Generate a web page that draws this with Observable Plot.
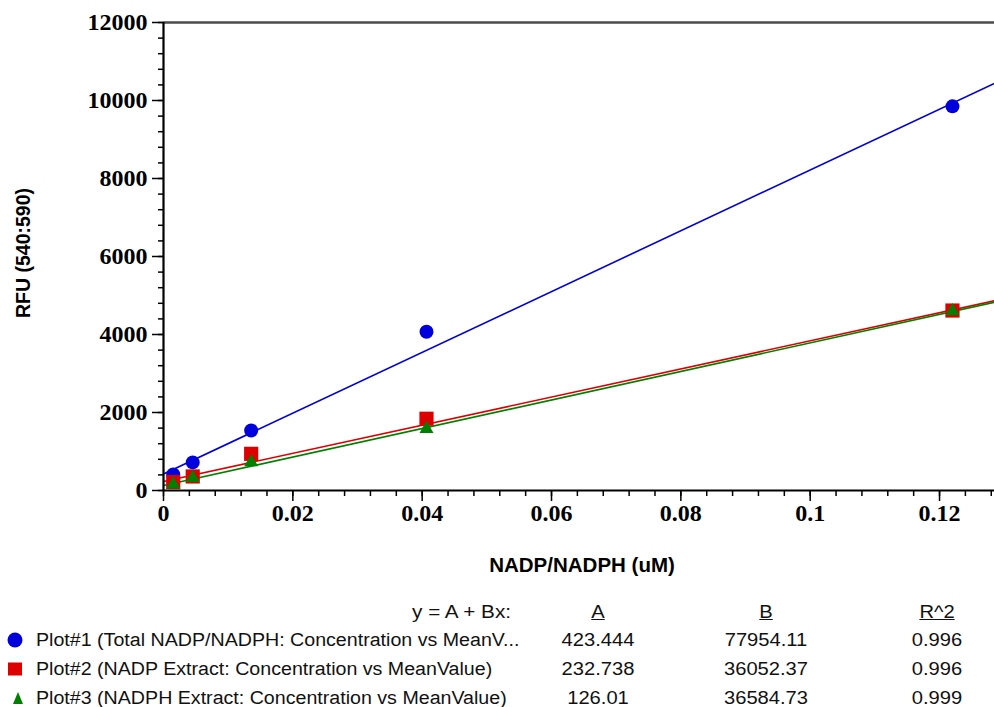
<!DOCTYPE html>
<html><head><meta charset="utf-8">
<script src="https://cdn.jsdelivr.net/npm/d3@7"></script>
<script src="https://cdn.jsdelivr.net/npm/@observablehq/plot@0.6"></script>
<style>
body{margin:0;background:#fff;}
#wrap{position:relative;width:994px;height:707px;overflow:hidden;font-family:"Liberation Sans",Arial,sans-serif;color:#111;}
.lg{position:absolute;font-size:18px;white-space:nowrap;line-height:20px;transform:translateY(-50%) scaleX(1.09);transform-origin:0 50%;}
.c{transform:translate(-50%,-50%) scaleX(1.12);transform-origin:50% 50%;}
.r{transform:translate(-100%,-50%) scaleX(1.15);transform-origin:100% 50%;}
.u{text-decoration:underline;}
.ax{position:absolute;font-weight:bold;font-size:20.5px;white-space:nowrap;color:#000;}
</style></head><body><div id="wrap"></div>
<script>
// ---- data ----
const concentrations = [0.001506, 0.004519, 0.013556, 0.040667, 0.122];
const totalValues = [410, 720, 1540, 4070, 9850];
const nadpValues  = [215, 360, 940, 1840, 4615];
const nadphValues = [155, 320, 725, 1580, 4600];
const seriesNames = [
  "Plot#1 (Total NADP/NADPH: Concentration vs MeanV...",
  "Plot#2 (NADP Extract: Concentration vs MeanValue)",
  "Plot#3 (NADPH Extract: Concentration vs MeanValue)"
];
const fitA = [423.444, 232.738, 126.01];
const fitB = [77954.11, 36052.37, 36584.73];
const fitALabels  = ["423.444", "232.738", "126.01"];
const fitBLabels  = ["77954.11", "36052.37", "36584.73"];
const fitR2Labels = ["0.996", "0.996", "0.999"];
const xTicks = [0, 0.02, 0.04, 0.06, 0.08, 0.1, 0.12];
const yTicks = [0, 2000, 4000, 6000, 8000, 10000, 12000];
const xDomain = [0, 0.1285];
const yDomain = [0, 12000];
const colors = ["#0000dd", "#dd0000", "#008000"];
const symbols = ["circle", "square", "triangle"];
const radii = [7, 8, 5.2];

const seriesValues = [totalValues, nadpValues, nadphValues];
const xMinor = d3.range(0, xDomain[1], 0.004);
const yMinor = d3.range(0, 12001, 400);

const marks = [
  Plot.ruleY([yDomain[1]], {stroke: "#4a4a4a", strokeWidth: 2.5}),
];
seriesValues.forEach((vals, i) => {
  const fit = [xDomain[0], xDomain[1]].map(x => ({x, y: fitA[i] + fitB[i] * x}));
  marks.push(Plot.line(fit, {x: "x", y: "y", stroke: colors[i], strokeWidth: 1.6, clip: true}));
});
seriesValues.forEach((vals, i) => {
  const pts = concentrations.map((c, j) => ({x: c, y: vals[j]}));
  marks.push(Plot.dot(pts, {x: "x", y: "y", symbol: symbols[i], r: radii[i], fill: colors[i], stroke: "none"}));
});
const tickFont = {fontSize: 24, fontFamily: "Liberation Serif, Times New Roman, serif", fontWeight: "bold"};
marks.push(
  Plot.axisX(xMinor, {tickSize: 6, tickFormat: () => "", strokeWidth: 1.5, label: null}),
  Plot.axisX(xTicks, {tickSize: 11, tickPadding: 2, strokeWidth: 1.5, label: null,
    tickFormat: d => String(+d.toFixed(2)), ...tickFont}),
  Plot.axisY(yMinor, {tickSize: 5, tickFormat: () => "", strokeWidth: 1.5, label: null}),
  Plot.axisY(yTicks, {tickSize: 11, tickPadding: 5, strokeWidth: 1.5, label: null,
    tickFormat: d => String(d), ...tickFont}),
  Plot.ruleY([0], {strokeWidth: 2.2, stroke: "#000"}),
  Plot.ruleX([0], {strokeWidth: 2.2, stroke: "#000"})
);

const chart = Plot.plot({
  width: 994, height: 590,
  marginLeft: 163, marginRight: 0, marginTop: 22, marginBottom: 100,
  x: {domain: xDomain},
  y: {domain: yDomain},
  style: {background: "#fff", color: "#000", overflow: "visible"},
  marks
});
const wrap = document.getElementById("wrap");
wrap.appendChild(chart);
chart.style.position = "absolute"; chart.style.left = "0"; chart.style.top = "0";

function add(html, cls, left, top, extra) {
  const d = document.createElement("div");
  d.className = cls; d.innerHTML = html;
  d.style.left = left + "px"; d.style.top = top + "px";
  if (extra) Object.assign(d.style, extra);
  wrap.appendChild(d);
  return d;
}
// axis titles
add("NADP/NADPH (uM)", "ax", 582, 565, {transform: "translate(-50%,-50%)"});
add("RFU (540:590)", "ax", 23, 253, {transform: "translate(-50%,-50%) rotate(-90deg)", fontSize: "19.5px"});

// legend table
const rowY = [640, 669, 698];
const colA = 598, colB = 766, colR = 937;
add("y = A + Bx:", "lg r", 511, 612);
add("A", "lg c u", colA, 612);
add("B", "lg c u", colB, 612);
add("R^2", "lg c u", colR, 612);
const symPaths = [
  '<circle cx="8" cy="8" r="7.5" fill="#0000dd"/>',
  '<rect x="1" y="1.5" width="14" height="13" fill="#dd0000"/>',
  '<path d="M8 2 L13 14 L3 14 Z" fill="#008000"/>'
];
seriesNames.forEach((name, i) => {
  add('<svg width="16" height="16" style="display:block">' + symPaths[i] + '</svg>', "lg", i === 2 ? 10 : 7, rowY[i], {width: "16px", height: "16px", transform: "translateY(-50%)"});
  add(name, "lg", 36, rowY[i]);
  add(fitALabels[i], "lg c", colA, rowY[i]);
  add(fitBLabels[i], "lg c", colB, rowY[i]);
  add(fitR2Labels[i], "lg c", colR, rowY[i]);
});
</script></body></html>
